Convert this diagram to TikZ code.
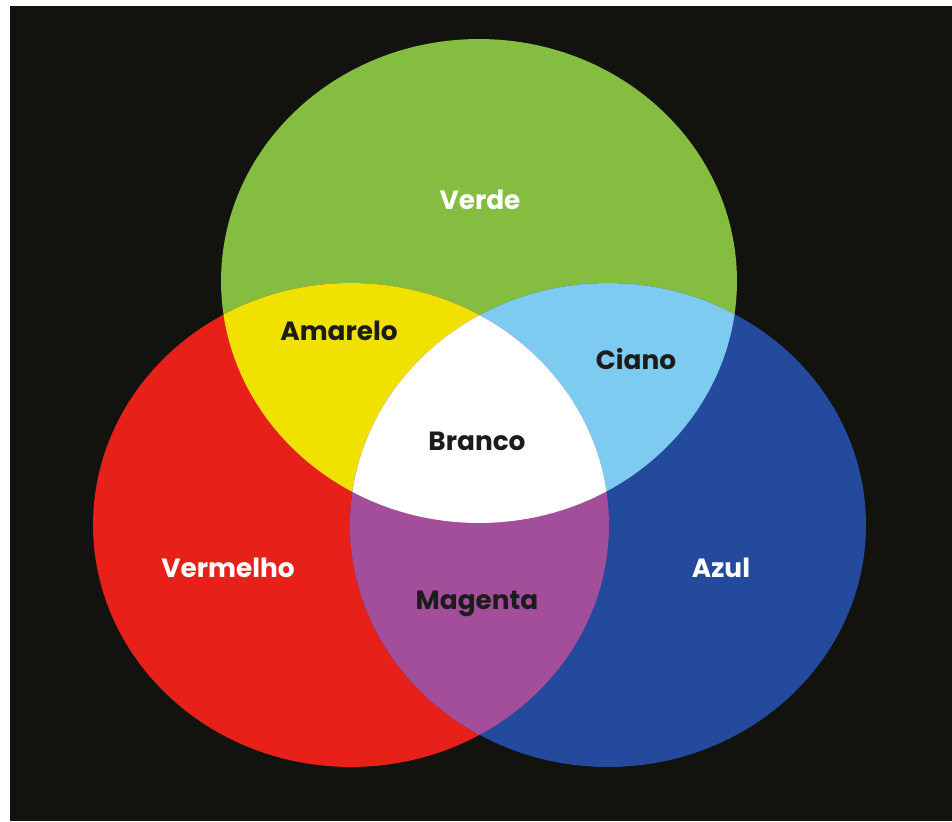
\documentclass[tikz,border=0pt]{standalone}
\usepackage{fontspec}
\setmainfont{Poppins}
\usetikzlibrary{positioning}

\definecolor{fundo}{HTML}{12120E}
\definecolor{verde}{HTML}{84BD3F}
\definecolor{vermelho}{HTML}{E72119}
\definecolor{azul}{HTML}{234A9C}
\definecolor{amarelo}{HTML}{F0E100}
\definecolor{ciano}{HTML}{7DCBF0}
\definecolor{magenta}{HTML}{A24E9B}
\definecolor{escuro}{HTML}{1C1C1C}

\tikzset{blob/.style={x radius=5.16cm,y radius=4.84cm}}

\begin{document}
\begin{tikzpicture}[x=0.02cm,y=-0.02cm]
  \tikzstyle{light}=[font=\bfseries\fontsize{15}{17}\selectfont,text=white]
  \tikzstyle{dark}=[font=\bfseries\fontsize{15}{17}\selectfont,text=escuro]

  \path[use as bounding box] (0,0) rectangle (952,821);
  \fill[fundo] (10,6) rectangle (952,821);

  \coordinate (g) at (479,281);
  \coordinate (r) at (351,525);
  \coordinate (b) at (608,525);

  \fill[verde]    (g) ellipse [blob];
  \fill[vermelho] (r) ellipse [blob];
  \fill[azul]     (b) ellipse [blob];

  \begin{scope}
    \clip (g) ellipse [blob];
    \fill[amarelo] (r) ellipse [blob];
    \fill[ciano]   (b) ellipse [blob];
  \end{scope}
  \begin{scope}
    \clip (r) ellipse [blob];
    \fill[magenta] (b) ellipse [blob];
    \clip (b) ellipse [blob];
    \fill[white] (g) ellipse [blob];
  \end{scope}

  \node[light] (verdeTxt)    at (480,200) {Verde};
  \node[dark]  (amareloTxt)  at (339,331) {Amarelo};
  \node[dark]  (cianoTxt)    at (636,359) {Ciano};
  \node[dark]  (brancoTxt)   at (477,441) {Branco};
  \node[light] (vermelhoTxt) at (228,568) {Vermelho};
  \node[light] (azulTxt)     at (721,568) {Azul};
  \node[dark]  (magentaTxt)  at (477,604) {Magenta};
\end{tikzpicture}
\end{document}
